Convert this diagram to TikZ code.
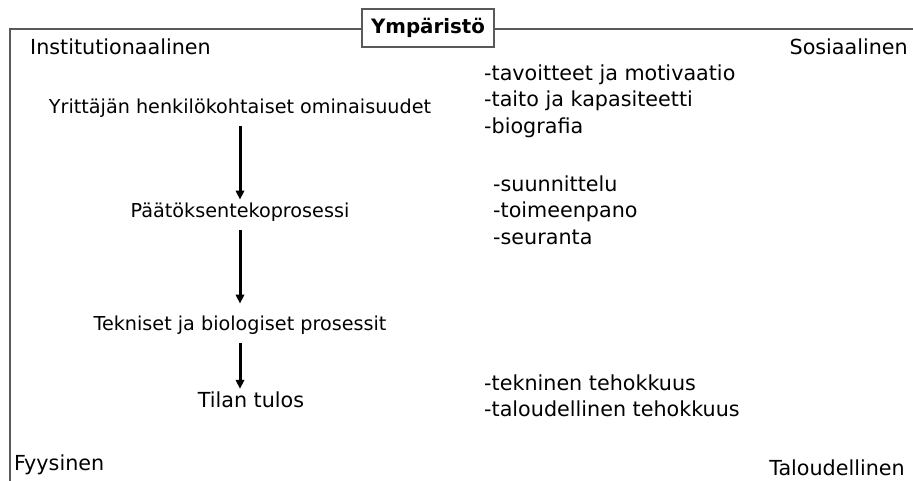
\documentclass[tikz,border=0pt]{standalone}
\usepackage{fontspec}
\setmainfont{DejaVu Sans}
\usetikzlibrary{arrows.meta}

\begin{document}
\begin{tikzpicture}[x=1pt,y=-1pt,
    txt/.style={font=\fontsize{19.2}{26.5}\selectfont, inner sep=2pt},
    isot/.style={txt, font=\fontsize{20.7}{26.5}\selectfont},
    lista/.style={isot, anchor=west, align=left},
    frame/.style={draw=black!65, line width=1.2pt},
    flow/.style={line width=3pt, -{Triangle[length=9pt,width=8.5pt]}, shorten <=7pt, shorten >=1pt}]
    \useasboundingbox (0,0) rectangle (913,481);
    % kehys ja otsikko
    \node[frame, fill=white, font=\bfseries\fontsize{19.8}{22}\selectfont, minimum width=132pt, minimum height=38pt, inner sep=0pt] (ymp) at (428,28) {Ympäristö};
    \coordinate (vy) at (10,29);
    \coordinate (va) at (10,481);
    \coordinate (oy) at (913,29);
    \draw[frame] (va) -- (vy) -- (ymp.west |- vy);
    \draw[frame] (ymp.east |- oy) -- (oy);
    \node[isot, anchor=west] (inst) at (28,47) {Institutionaalinen};
    \node[isot, anchor=east] (sos) at (910,47) {Sosiaalinen};
    \node[isot, anchor=west] (fyys) at (12,465) {Fyysinen};
    \node[isot, anchor=east] (tal) at (907,468) {Taloudellinen};
    % prosessiketju
    \node[txt] (yritt) at (240,108) {Yrittäjän henkilökohtaiset ominaisuudet};
    \node[txt] (paat) at (240,212) {Päätöksentekoprosessi};
    \node[txt] (tekn) at (240,325) {Tekniset ja biologiset prosessit};
    \node[isot] (tulos) at (251,400) {Tilan tulos};
    \draw[flow] (yritt.south) -- (paat.north);
    \draw[flow, shorten >=10pt] (paat.south) -- (paat.south |- tekn.north);
    \draw[flow] (tekn.south) -- (tekn.south |- tulos.north);
    % tarkennukset
    \node[lista] (omin) at (482,101) {-tavoitteet ja motivaatio\\-taito ja kapasiteetti\\-biografia};
    \node[lista] (vaih) at (491,210) {-suunnittelu\\-toimeenpano\\-seuranta};
    \node[lista] (teho) at (482,396) {-tekninen tehokkuus\\-taloudellinen tehokkuus};
\end{tikzpicture}
\end{document}
